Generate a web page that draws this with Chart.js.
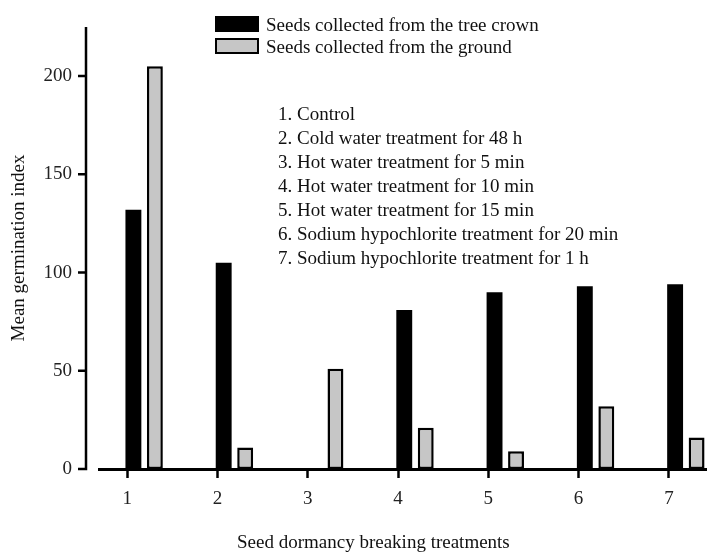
<!DOCTYPE html>
<html>
<head>
<meta charset="utf-8">
<title>Mean germination index</title>
<script src="https://cdn.jsdelivr.net/npm/chart.js@4.4.1/dist/chart.umd.min.js"></script>
<style>
  html, body { margin: 0; padding: 0; background: #fff; overflow: hidden; }
  /* the original figure is cropped on the right, so the canvas runs past the window */
  #wrap { position: relative; width: 740px; height: 554px; }
  .txt { position: absolute; font-family: "Liberation Serif", serif; font-size: 19px; color: #111; white-space: nowrap; }
  #legend { left: 215px; top: 14px; line-height: 22px; }
  #legend .row { position: relative; padding-left: 51px; height: 22px; }
  #legend .box { position: absolute; left: 0; top: 2px; width: 44px; height: 16px; box-sizing: border-box; }
  #treatments { left: 278px; top: 102px; line-height: 24px; }
  #xtitle { left: 237px; top: 531px; line-height: 22px; }
</style>
</head>
<body>
<div id="wrap">
  <canvas id="chart"></canvas>
  <div id="legend" class="txt"></div>
  <div id="treatments" class="txt"></div>
  <div id="xtitle" class="txt">Seed dormancy breaking treatments</div>
</div>
<script>
const categories = ["1", "2", "3", "4", "5", "6", "7"];
const crownValues = [132, 105, 0, 81, 90, 93, 94];
const groundValues = [205, 11, 51, 21, 9, 32, 16];
const seriesNames = ["Seeds collected from the tree crown", "Seeds collected from the ground"];
const treatments = [
  "1. Control",
  "2. Cold water treatment for 48 h",
  "3. Hot water treatment for 5 min",
  "4. Hot water treatment for 10 min",
  "5. Hot water treatment for 15 min",
  "6. Sodium hypochlorite treatment for 20 min",
  "7. Sodium hypochlorite treatment for 1 h",
];
const yTicks = [0, 50, 100, 150, 200];
const yMax = 225;

// tick marks sit at the left edge of each pair, not at the group centre
const tickShift = 0.188;
const serif = { family: "'Liberation Serif', serif", size: 19 };
const crownFill = "#000000";
const groundFill = "#c6c6c6";

// legend + treatment key as plain text
document.getElementById("legend").innerHTML = seriesNames.map((name, i) => {
  const style = i === 0
    ? `background:${crownFill}`
    : `background:${groundFill};border:2.5px solid #000`;
  return `<div class="row"><span class="box" style="${style}"></span>${name}</div>`;
}).join("");
document.getElementById("treatments").innerHTML = treatments.map(t => `<div>${t}</div>`).join("");

// y axis is drawn a little left of the plot, Prism style
const offsetYAxis = {
  id: "offsetYAxis",
  afterDatasetsDraw(chart) {
    const { ctx, chartArea } = chart;
    const y = chart.scales.y;
    const x0 = chartArea.left - 13;
    ctx.save();
    ctx.strokeStyle = "#000";
    ctx.lineWidth = 2.5;
    ctx.beginPath();
    ctx.moveTo(x0, chartArea.top);
    ctx.lineTo(x0, y.getPixelForValue(0) + 1.25);
    y.ticks.forEach(t => {
      const py = y.getPixelForValue(t.value);
      ctx.moveTo(x0 - 8, py);
      ctx.lineTo(x0 + 1, py);
    });
    ctx.stroke();
    ctx.restore();
  },
};

new Chart(document.getElementById("chart"), {
  type: "bar",
  data: {
    labels: categories,
    datasets: [
      {
        label: seriesNames[0],
        data: crownValues,
        xAxisID: "x",
        backgroundColor: crownFill,
        borderWidth: 0,
      },
      {
        label: seriesNames[1],
        data: groundValues,
        xAxisID: "x",
        backgroundColor: groundFill,
        borderColor: "#000",
        borderWidth: 2.5,
        borderSkipped: false,
      },
    ],
  },
  options: {
    responsive: true,
    maintainAspectRatio: false,
    animation: false,
    categoryPercentage: 0.476,
    barPercentage: 0.74,
    layout: { padding: { top: 27, right: 9, bottom: 0, left: 0 } },
    plugins: {
      legend: { display: false },
      tooltip: { enabled: false },
    },
    scales: {
      x: {
        display: false,
        offset: true,
      },
      x2: {
        type: "linear",
        position: "bottom",
        offset: false,
        min: 0.5 + tickShift,
        max: categories.length + 0.5 + tickShift,
        afterBuildTicks: s => { s.ticks = categories.map((c, i) => ({ value: i + 1 })); },
        afterFit: s => { s.height = 85; s.paddingLeft = 0; s.paddingRight = 0; },
        grid: { offset: false, drawOnChartArea: false, tickLength: 9, tickWidth: 2.5, tickColor: "#000" },
        border: { display: true, color: "#000", width: 3 },
        ticks: {
          padding: 10,
          color: "#222",
          font: serif,
          callback: (v, i) => categories[i],
        },
      },
      y: {
        min: 0,
        max: yMax,
        afterBuildTicks: s => { s.ticks = yTicks.map(v => ({ value: v })); },
        afterFit: s => { s.width = 99; s.paddingTop = 0; s.paddingBottom = 0; },
        grid: { display: false, drawTicks: false },
        border: { display: false },
        ticks: { padding: 27, color: "#222", font: serif },
        title: {
          display: true,
          text: "Mean germination index",
          color: "#111",
          font: serif,
          padding: { top: 8, bottom: 0 },
        },
      },
    },
  },
  plugins: [offsetYAxis],
});
</script>
</body>
</html>
